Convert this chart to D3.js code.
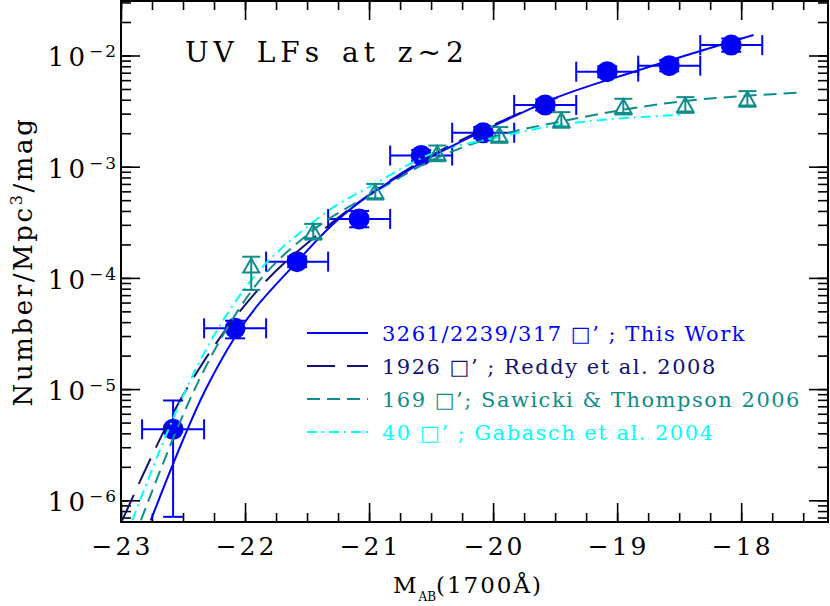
<!DOCTYPE html>
<html>
<head>
<meta charset="utf-8">
<script src="https://cdn.jsdelivr.net/npm/d3@7"></script>
<style>
  body { margin: 0; background: #fff; }
  svg { display: block; }
</style>
</head>
<body>
<div id="chart"></div>
<script>
// UV luminosity functions at z~2

// this work: binned points
const workMag = [-22.58, -22.08, -21.58, -21.08, -20.58, -20.08, -19.58, -19.08, -18.58, -18.08];
const workPhi = [4.35e-6, 3.52e-5, 1.40e-4, 3.39e-4, 1.26e-3, 2.02e-3, 3.59e-3, 7.15e-3, 8.1e-3, 1.24e-2];
const workLo  = [7.1e-7, 2.86e-5, 1.25e-4, 2.85e-4, 1.12e-3, 1.80e-3, 3.2e-3, 6.37e-3, 7.2e-3, 1.08e-2];
const workHi  = [7.9e-6, 4.12e-5, 1.56e-4, 4.0e-4, 1.41e-3, 2.27e-3, 4.03e-3, 8.0e-3, 9.1e-3, 1.42e-2];
const workBin = 0.25;

// Sawicki & Thompson 2006 points
const stMag = [-21.95, -21.45, -20.95, -20.45, -19.95, -19.45, -18.95, -18.45, -17.95];
const stPhi = [1.28e-4, 2.60e-4, 5.96e-4, 1.32e-3, 1.93e-3, 2.63e-3, 3.47e-3, 3.59e-3, 4.07e-3];
const stLo  = [7.8e-5, 2.21e-4, 5.07e-4, 1.12e-3, 1.64e-3, 2.24e-3, 2.95e-3, 3.05e-3, 3.46e-3];
const stHi  = [1.55e-4, 3.06e-4, 7.0e-4, 1.55e-3, 2.27e-3, 3.09e-3, 4.08e-3, 4.22e-3, 4.78e-3];

// fitted curves
const workFitMag = [-22.76, -22.32, -22.08, -21.58, -21.34, -20.59, -19.92, -19.57, -18.82, -17.90];
const workFitPhi = [6.6e-7, 9.8e-6, 2.96e-5, 1.40e-4, 2.70e-4, 1.07e-3, 2.54e-3, 3.85e-3, 7.41e-3, 1.53e-2];

const reddyFitMag = [-22.99, -22.49, -22.36, -21.91, -21.37, -20.59, -19.92, -19.40];
const reddyFitPhi = [6.6e-7, 9.2e-6, 1.59e-5, 7.5e-5, 2.70e-4, 1.10e-3, 2.60e-3, 4.57e-3];

const stFitMag = [-22.84, -22.37, -21.96, -21.48, -20.97, -20.51, -19.94, -19.46, -18.60, -17.55];
const stFitPhi = [6.6e-7, 1.21e-5, 7.31e-5, 2.54e-4, 5.77e-4, 1.12e-3, 1.93e-3, 2.54e-3, 3.72e-3, 4.62e-3];

const gabFitMag = [-22.91, -22.36, -21.96, -21.53, -21.32, -20.97, -20.51, -19.94, -19.70, -18.49];
const gabFitPhi = [6.6e-7, 1.82e-5, 9.25e-5, 2.70e-4, 4.08e-4, 6.85e-4, 1.29e-3, 1.86e-3, 2.14e-3, 2.92e-3];

const legendLabels = [
  '3261/2239/317 \u25A1\u2019 ; This Work',
  '1926 \u25A1\u2019 ; Reddy et al. 2008',
  '169 \u25A1\u2019; Sawicki & Thompson 2006',
  '40 \u25A1\u2019 ; Gabasch et al. 2004'
];

const xMajorTicks = [-23, -22, -21, -20, -19, -18];
const yMajorTicks = [1e-6, 1e-5, 1e-4, 1e-3, 1e-2];

const W = 830, H = 606;
const pLeft = 121, pRight = 828, pTop = 1, pBottom = 522;
const FONT = 'DejaVu Serif';

const BLUE = '#0000ff', NAVY = '#121275', TEAL = '#0f8c8c', CYAN = '#00ffff';

const svg = d3.select('#chart').append('svg')
  .attr('width', W).attr('height', H);

const x = d3.scaleLinear().domain([-23, -17.3]).range([pLeft, pRight]);
const y = d3.scaleLog().domain([6.38e-7, 3.09e-2]).range([pBottom, pTop]);

svg.append('clipPath').attr('id', 'plotclip')
  .append('rect').attr('x', pLeft).attr('y', pTop)
  .attr('width', pRight - pLeft).attr('height', pBottom - pTop);

// ticks on all four sides, pointing inward
const xMinor = d3.range(-23, -17.3, 0.25);
const yAll = y.ticks();

function tickAxis(axis, tr) {
  const g = svg.append('g').attr('transform', tr).call(axis);
  g.select('.domain').remove();
  g.selectAll('line').attr('stroke', '#000').attr('stroke-width', 1.6);
  return g;
}
tickAxis(d3.axisBottom(x).tickValues(xMinor).tickSize(-9).tickFormat(''), `translate(0,${pBottom})`);
tickAxis(d3.axisBottom(x).tickValues(xMajorTicks).tickSize(-19).tickFormat(''), `translate(0,${pBottom})`);
tickAxis(d3.axisTop(x).tickValues(xMinor).tickSize(-9).tickFormat(''), `translate(0,${pTop})`);
tickAxis(d3.axisTop(x).tickValues(xMajorTicks).tickSize(-19).tickFormat(''), `translate(0,${pTop})`);
tickAxis(d3.axisLeft(y).tickValues(yAll).tickSize(-10).tickFormat(''), `translate(${pLeft},0)`);
tickAxis(d3.axisLeft(y).tickValues(yMajorTicks).tickSize(-19).tickFormat(''), `translate(${pLeft},0)`);
tickAxis(d3.axisRight(y).tickValues(yAll).tickSize(-10).tickFormat(''), `translate(${pRight},0)`);
tickAxis(d3.axisRight(y).tickValues(yMajorTicks).tickSize(-19).tickFormat(''), `translate(${pRight},0)`);

// frame
svg.append('rect')
  .attr('x', pLeft).attr('y', pTop)
  .attr('width', pRight - pLeft).attr('height', pBottom - pTop)
  .attr('fill', 'none').attr('stroke', '#000').attr('stroke-width', 2);

// x tick labels
svg.append('g').selectAll('text').data(xMajorTicks).join('text')
  .attr('x', d => x(d) + 1.5).attr('y', 555)
  .attr('text-anchor', 'middle')
  .style('font-family', FONT).style('font-size', '25px')
  .style('letter-spacing', '3px')
  .text(d => '\u2212' + Math.abs(d));

// y tick labels, 10^n
const yl = svg.append('g').selectAll('text').data(yMajorTicks).join('text')
  .attr('x', 118).attr('y', d => y(d) + 11)
  .attr('text-anchor', 'end')
  .style('font-family', FONT).style('font-size', '26px');
yl.append('tspan').style('letter-spacing', '4px').text('10');
yl.append('tspan').attr('dy', -9).style('font-size', '17px').style('letter-spacing', '2px')
  .text(d => '\u2212' + Math.round(-Math.log10(d)));

// axis titles
const xt = svg.append('text')
  .attr('x', 468).attr('y', 593)
  .attr('text-anchor', 'middle')
  .style('font-family', FONT).style('font-size', '23px')
  .style('letter-spacing', '2px');
xt.append('tspan').text('M');
xt.append('tspan').attr('dy', 8).style('font-size', '12px').style('letter-spacing', '0px').text('AB');
xt.append('tspan').attr('dy', -8).text('(1700\u00C5)');

const yt = svg.append('text')
  .attr('transform', `translate(32,${(pTop + pBottom) / 2}) rotate(-90)`)
  .attr('text-anchor', 'middle')
  .style('font-family', FONT).style('font-size', '26px')
  .style('letter-spacing', '2.6px');
yt.append('tspan').text('Number/Mpc');
yt.append('tspan').attr('dy', -10).style('font-size', '16px').text('3');
yt.append('tspan').attr('dy', 10).text('/mag');

// title
svg.append('text')
  .attr('x', 185).attr('y', 62)
  .style('font-family', FONT).style('font-size', '28px')
  .style('letter-spacing', '5px')
  .style('word-spacing', '4px')
  .text('UV LFs at z~2');

const plot = svg.append('g');

// this work points with error bars
const work = workMag.map((m, i) => ({ m, phi: workPhi[i], lo: workLo[i], hi: workHi[i] }));
const wg = plot.append('g').attr('stroke', BLUE).attr('stroke-width', 2);
work.forEach(d => {
  const cx = x(d.m), cy = y(d.phi);
  const x0 = x(d.m - workBin), x1 = x(d.m + workBin);
  const ylo = Math.min(y(d.lo), pBottom), yhi = y(d.hi);
  wg.append('line').attr('x1', x0).attr('x2', x1).attr('y1', cy).attr('y2', cy);
  wg.append('line').attr('x1', x0).attr('x2', x0).attr('y1', cy - 10).attr('y2', cy + 10);
  wg.append('line').attr('x1', x1).attr('x2', x1).attr('y1', cy - 10).attr('y2', cy + 10);
  wg.append('line').attr('x1', cx).attr('x2', cx).attr('y1', ylo).attr('y2', yhi);
  wg.append('line').attr('x1', cx - 10).attr('x2', cx + 10).attr('y1', ylo).attr('y2', ylo);
  wg.append('line').attr('x1', cx - 10).attr('x2', cx + 10).attr('y1', yhi).attr('y2', yhi);
});
plot.append('g').selectAll('circle').data(work).join('circle')
  .attr('cx', d => x(d.m)).attr('cy', d => y(d.phi))
  .attr('r', 10.5).attr('fill', BLUE);

// fitted curves
const line = d3.line().x(d => x(d[0])).y(d => y(d[1])).curve(d3.curveMonotoneX);
const curves = [
  { mag: reddyFitMag, phi: reddyFitPhi, color: NAVY, dash: '28,12' },
  { mag: stFitMag, phi: stFitPhi, color: TEAL, dash: '13,7' },
  { mag: gabFitMag, phi: gabFitPhi, color: CYAN, dash: '10,5,2,5' },
  { mag: workFitMag, phi: workFitPhi, color: BLUE, dash: null }
];
const cg = plot.append('g').attr('clip-path', 'url(#plotclip)');
curves.forEach(c => {
  cg.append('path')
    .datum(c.mag.map((m, i) => [m, c.phi[i]]))
    .attr('d', line)
    .attr('fill', 'none')
    .attr('stroke', c.color)
    .attr('stroke-width', 2)
    .attr('stroke-dasharray', c.dash);
});

// Sawicki & Thompson open triangles
const st = stMag.map((m, i) => ({ m, phi: stPhi[i], lo: stLo[i], hi: stHi[i] }));
const sg = plot.append('g').attr('stroke', TEAL).attr('stroke-width', 2).attr('fill', 'none');
st.forEach(d => {
  const cx = x(d.m), cy = y(d.phi);
  const ylo = y(d.lo), yhi = y(d.hi);
  sg.append('line').attr('x1', cx).attr('x2', cx).attr('y1', ylo).attr('y2', yhi);
  sg.append('line').attr('x1', cx - 9).attr('x2', cx + 9).attr('y1', ylo).attr('y2', ylo);
  sg.append('line').attr('x1', cx - 9).attr('x2', cx + 9).attr('y1', yhi).attr('y2', yhi);
  sg.append('path').attr('d', `M${cx},${cy - 7.5}L${cx + 8},${cy + 6.5}L${cx - 8},${cy + 6.5}Z`);
});

// legend
const legColors = [BLUE, NAVY, TEAL, CYAN];
const legDash = [null, '28,12', '13,7', '10,5,2,5'];
const lg = svg.append('g');
legendLabels.forEach((t, i) => {
  const ly = 333 + i * 33;
  lg.append('line')
    .attr('x1', 307).attr('x2', 368).attr('y1', ly).attr('y2', ly)
    .attr('stroke', legColors[i]).attr('stroke-width', 2)
    .attr('stroke-dasharray', legDash[i]);
  lg.append('text')
    .attr('x', 382).attr('y', ly + 8)
    .attr('fill', legColors[i])
    .style('font-family', FONT).style('font-size', '21px')
    .style('letter-spacing', '1.5px')
    .text(t);
});
</script>
</body>
</html>
